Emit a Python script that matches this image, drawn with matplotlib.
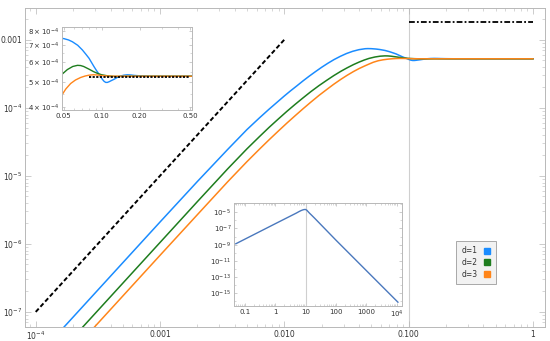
import matplotlib

matplotlib.use("Agg")
import matplotlib.pyplot as plt
from matplotlib.lines import Line2D
from matplotlib.ticker import FixedLocator, FixedFormatter, LogLocator, NullFormatter

FONT_SIZE = 5.5
plt.rcParams.update({
    "font.family": ["DejaVu Sans"],
    "font.size": FONT_SIZE,
    "mathtext.fontset": "dejavusans",
    "axes.unicode_minus": True,
})

FRAME = "#b8b8b8"
LABEL = "#333333"
COLORS = {"d=1": "#1a8cff", "d=2": "#1e7d1e", "d=3": "#ff8519"}
INSET_COLOR = "#4a78bd"

# Main curves (x, y on log-log axes).
X_BLUE = [1e-4, 4e-4, 1e-3, 2e-3, 3.5e-3, 5e-3, 6.3e-3, 7.5e-3, 0.0089, 0.01, 0.0112, 0.0126, 0.0141,
          0.0158, 0.0178, 0.02, 0.0224, 0.0251, 0.0282, 0.0316, 0.0355, 0.0398, 0.0447, 0.047,
          0.0501, 0.0546, 0.0586, 0.0646, 0.0703, 0.075, 0.0794, 0.0832, 0.087, 0.091, 0.0953,
          0.1014, 0.1045, 0.1077, 0.111, 0.1145, 0.119, 0.125, 0.133, 0.1416, 0.150, 0.160, 0.170,
          0.181, 0.2, 0.217, 0.25, 0.3, 1.0]
Y_BLUE = [2.1e-8, 3.36e-7, 2.1e-6, 8.3e-6, 2.45e-5, 4.8e-5, 7.13e-5, 9.51e-5, 1.247e-4, 1.50e-4,
          1.78e-4, 2.11e-4, 2.49e-4, 2.92e-4, 3.42e-4, 3.97e-4, 4.54e-4, 5.14e-4, 5.74e-4, 6.31e-4,
          6.81e-4, 7.19e-4, 7.43e-4, 7.46e-4, 7.44e-4, 7.35e-4, 7.23e-4, 7.0e-4, 6.71e-4, 6.45e-4,
          6.22e-4, 5.98e-4, 5.76e-4, 5.56e-4, 5.38e-4, 5.13e-4, 5.04e-4, 4.99e-4, 4.99e-4, 5.02e-4,
          5.07e-4, 5.13e-4, 5.22e-4, 5.29e-4, 5.33e-4, 5.35e-4, 5.34e-4, 5.32e-4, 5.30e-4, 5.29e-4,
          5.28e-4, 5.28e-4, 5.28e-4]

X_GREEN = [1e-4, 1e-3, 2e-3, 3.5e-3, 5e-3, 6.3e-3, 7.5e-3, 0.0089, 0.0105, 0.0122, 0.0141, 0.0163,
           0.019, 0.022, 0.025, 0.0285, 0.032, 0.036, 0.040, 0.044, 0.048, 0.0535, 0.059, 0.0643,
           0.068, 0.072, 0.0794, 0.086, 0.0925, 0.1, 0.111, 0.125, 0.14, 0.16, 1.0]
Y_GREEN = [1.05e-8, 1.05e-6, 4.2e-6, 1.27e-5, 2.5e-5, 3.78e-5, 5.13e-5, 6.82e-5, 8.93e-5, 1.127e-4,
           1.40e-4, 1.73e-4, 2.13e-4, 2.56e-4, 2.99e-4, 3.46e-4, 3.89e-4, 4.34e-4, 4.73e-4, 5.07e-4,
           5.35e-4, 5.61e-4, 5.77e-4, 5.83e-4, 5.82e-4, 5.77e-4, 5.63e-4, 5.51e-4, 5.42e-4, 5.35e-4,
           5.3e-4, 5.27e-4, 5.27e-4, 5.28e-4, 5.28e-4]

X_ORANGE = [1e-4, 1e-3, 2e-3, 3.5e-3, 5e-3, 6.3e-3, 7.5e-3, 0.0089, 0.0105, 0.0122, 0.0141, 0.0163,
            0.019, 0.022, 0.025, 0.0285, 0.032, 0.036, 0.040, 0.044, 0.048, 0.052, 0.0568, 0.062,
            0.0682, 0.074, 0.0794, 0.086, 0.0925, 0.1, 0.111, 0.125, 1.0]
Y_ORANGE = [6.8e-9, 6.8e-7, 2.7e-6, 8.2e-6, 1.62e-5, 2.47e-5, 3.37e-5, 4.53e-5, 6.0e-5, 7.67e-5,
            9.68e-5, 1.213e-4, 1.528e-4, 1.875e-4, 2.234e-4, 2.636e-4, 3.02e-4, 3.43e-4, 3.80e-4,
            4.12e-4, 4.42e-4, 4.70e-4, 4.94e-4, 5.10e-4, 5.22e-4, 5.29e-4, 5.33e-4, 5.35e-4, 5.34e-4,
            5.31e-4, 5.29e-4, 5.28e-4, 5.28e-4]

X_DASHED = [1e-4, 0.0101]
Y_DASHED = [1e-7, 1.03e-3]
X_DASHDOT = [0.1, 1.0]
Y_DASHDOT = [1.85e-3, 1.85e-3]
X_VLINE = 0.1

X_DOTTED = [0.079, 0.5]
Y_DOTTED = [5.25e-4, 5.25e-4]

# Small inset in the lower middle.
X_SPEC = [0.05, 1, 5, 6, 7, 8, 9, 10, 11, 12, 13.5, 16, 20, 100, 1000, 1.1e4]
Y_SPEC = [1.3e-9, 3.9e-7, 8.2e-6, 1.2e-5, 1.6e-5, 1.95e-5, 2.2e-5, 2.2e-5, 1.75e-5, 1.22e-5,
          7.6e-6, 4.1e-6, 1.78e-6, 3.6e-9, 6.4e-13, 8e-17]
X_SPEC_VLINE = 10

MAIN_XTICKS = [1e-4, 1e-3, 1e-2, 1e-1, 1]
MAIN_XLABELS = [r"$10^{-4}$", "0.001", "0.010", "0.100", "1"]
MAIN_YTICKS = [1e-7, 1e-6, 1e-5, 1e-4, 1e-3]
MAIN_YLABELS = [r"$10^{-7}$", r"$10^{-6}$", r"$10^{-5}$", r"$10^{-4}$", "0.001"]

TOP_XTICKS = [0.05, 0.1, 0.2, 0.5]
TOP_XLABELS = ["0.05", "0.10", "0.20", "0.50"]
TOP_YTICKS = [4e-4, 5e-4, 6e-4, 7e-4, 8e-4]
TOP_YLABELS = [r"$4\times10^{-4}$", r"$5\times10^{-4}$", r"$6\times10^{-4}$",
               r"$7\times10^{-4}$", r"$8\times10^{-4}$"]

SPEC_XTICKS = [0.1, 1, 10, 100, 1000, 1e4]
SPEC_XLABELS = ["0.1", "1", "10", "100", "1000", r"$10^{4}$"]
SPEC_YTICKS = [1e-15, 1e-13, 1e-11, 1e-9, 1e-7, 1e-5]
SPEC_YLABELS = [r"$10^{-15}$", r"$10^{-13}$", r"$10^{-11}$", r"$10^{-9}$", r"$10^{-7}$", r"$10^{-5}$"]


def style_frame(ax, fs=FONT_SIZE, major=3.0, minor=1.6):
    for s in ax.spines.values():
        s.set_color(FRAME)
        s.set_linewidth(0.7)
    ax.tick_params(which="both", direction="in", top=True, right=True, color=FRAME,
                   labelcolor=LABEL, labelsize=fs, pad=2)
    ax.tick_params(which="major", length=major, width=0.5)
    ax.tick_params(which="minor", length=minor, width=0.4)


def set_ticks(axis, ticks, labels):
    axis.set_major_locator(FixedLocator(ticks))
    axis.set_major_formatter(FixedFormatter(labels))
    axis.set_minor_locator(LogLocator(base=10, subs=range(2, 10), numticks=30))
    axis.set_minor_formatter(NullFormatter())


W, H = 550, 341
fig = plt.figure(figsize=(W / 100, H / 100), dpi=100)


def px_axes(x0, y0, x1, y1):
    return fig.add_axes([x0 / W, 1 - y1 / H, (x1 - x0) / W, (y1 - y0) / H])


# main panel
ax = px_axes(25, 8, 545, 327)
ax.set_xscale("log")
ax.set_yscale("log")
ax.axvline(X_VLINE, color="#cfcfcf", lw=0.8, zorder=1)
ax.plot(X_BLUE, Y_BLUE, color=COLORS["d=1"], lw=1.1, zorder=3)
ax.plot(X_GREEN, Y_GREEN, color=COLORS["d=2"], lw=1.1, zorder=3)
ax.plot(X_ORANGE, Y_ORANGE, color=COLORS["d=3"], lw=1.1, zorder=3)
ax.plot(X_DASHED, Y_DASHED, color="black", lw=1.4, dashes=(2.3, 1.3), zorder=3)
ax.plot(X_DASHDOT, Y_DASHDOT, color="black", lw=1.3, dashes=(3.2, 1.2, 1.0, 1.2), zorder=3)
ax.set_xlim(8.2e-5, 1.25)
ax.set_ylim(6.0e-8, 2.95e-3)
set_ticks(ax.xaxis, MAIN_XTICKS, MAIN_XLABELS)
set_ticks(ax.yaxis, MAIN_YTICKS, MAIN_YLABELS)
style_frame(ax, major=4.0, minor=2.2)

handles = [Line2D([], [], marker="s", linestyle="none", markersize=4.2,
                  markerfacecolor=c, markeredgecolor=c) for c in COLORS.values()]
leg = ax.legend(handles, list(COLORS.keys()), loc="upper left",
                bbox_to_anchor=(456 / W, 1 - 241 / H), bbox_transform=fig.transFigure,
                borderaxespad=0, markerfirst=False, fontsize=FONT_SIZE, handlelength=0.8,
                handletextpad=0.9, labelspacing=0.35, borderpad=0.7, fancybox=False, framealpha=1)
leg.get_frame().set_facecolor("#f2f2f2")
leg.get_frame().set_edgecolor("#a8a8a8")
leg.get_frame().set_linewidth(0.7)
for t in leg.get_texts():
    t.set_color(LABEL)

# top-left inset: zoom on the plateau
ax1 = px_axes(62, 27, 192, 110)
ax1.set_xscale("log")
ax1.set_yscale("log")
ax1.plot(X_BLUE, Y_BLUE, color=COLORS["d=1"], lw=1.0)
ax1.plot(X_GREEN, Y_GREEN, color=COLORS["d=2"], lw=1.0)
ax1.plot(X_ORANGE, Y_ORANGE, color=COLORS["d=3"], lw=1.0)
ax1.plot(X_DOTTED, Y_DOTTED, color="black", lw=1.3, dashes=(1.2, 0.8))
ax1.set_xlim(0.0485, 0.52)
ax1.set_ylim(3.88e-4, 8.27e-4)
set_ticks(ax1.xaxis, TOP_XTICKS, TOP_XLABELS)
ax1.yaxis.set_major_locator(FixedLocator(TOP_YTICKS))
ax1.yaxis.set_major_formatter(FixedFormatter(TOP_YLABELS))
ax1.yaxis.set_minor_locator(FixedLocator([4.5e-4, 5.5e-4, 6.5e-4, 7.5e-4]))
ax1.yaxis.set_minor_formatter(NullFormatter())
style_frame(ax1, fs=5.0, major=2.5, minor=1.3)

# bottom inset: spectrum
ax2 = px_axes(234, 203, 402, 306)
ax2.set_xscale("log")
ax2.set_yscale("log")
ax2.axvline(X_SPEC_VLINE, color="#cfcfcf", lw=0.8)
ax2.plot(X_SPEC, Y_SPEC, color=INSET_COLOR, lw=1.0)
ax2.set_xlim(0.0435, 1.5e4)
ax2.set_ylim(2.7e-17, 1.4e-4)
set_ticks(ax2.xaxis, SPEC_XTICKS, SPEC_XLABELS)
ax2.yaxis.set_major_locator(FixedLocator(SPEC_YTICKS))
ax2.yaxis.set_major_formatter(FixedFormatter(SPEC_YLABELS))
ax2.yaxis.set_minor_locator(LogLocator(base=10, subs=(1.0,), numticks=40))
ax2.yaxis.set_minor_formatter(NullFormatter())
style_frame(ax2, fs=5.0, major=2.5, minor=1.3)

fig.savefig("out.png", dpi=100)
